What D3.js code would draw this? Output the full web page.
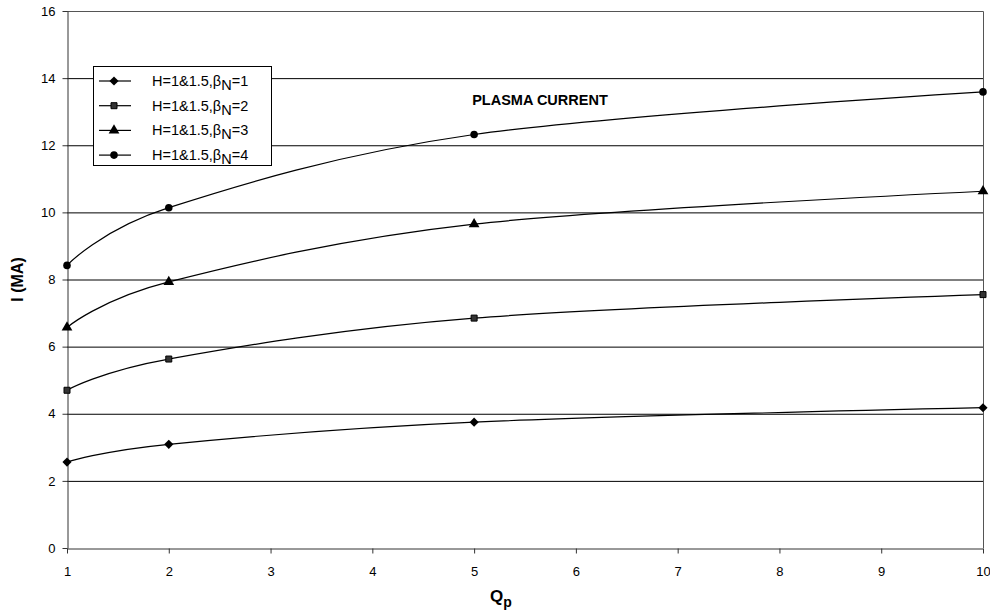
<!DOCTYPE html>
<html>
<head>
<meta charset="utf-8">
<script src="https://cdn.jsdelivr.net/npm/d3@7"></script>
<style>
  body { margin: 0; background: #fff; }
  text { font-family: "Liberation Sans", Arial, sans-serif; }
</style>
</head>
<body>
<div id="chart"></div>
<script>
// data
var qp = [1, 2, 5, 10];
var beta1 = [2.56, 3.09, 3.75, 4.18];
var beta2 = [4.70, 5.63, 6.85, 7.55];
var beta3 = [6.57, 7.93, 9.65, 10.63];
var beta4 = [8.42, 10.14, 12.32, 13.59];
var seriesNames = ["1", "2", "3", "4"];
var yTicks = [0, 2, 4, 6, 8, 10, 12, 14, 16];
var xTicks = [1, 2, 3, 4, 5, 6, 7, 8, 9, 10];

var margin = { top: 11, right: 7, bottom: 66, left: 67 },
  width = 990 - margin.left - margin.right,
  height = 614 - margin.top - margin.bottom;

var svg = d3
  .select("#chart")
  .append("svg")
  .attr("width", 990)
  .attr("height", 614)
  .append("g")
  .attr("transform", "translate(" + margin.left + "," + margin.top + ")");

var x = d3.scaleLinear().domain([1, 10]).range([0, width]);
var y = d3.scaleLinear().domain([0, 16]).range([height, 0]);

// grid lines
svg
  .selectAll(".grid")
  .data(yTicks.filter(function (d) { return d > 0 && d < 16; }))
  .enter()
  .append("line")
  .attr("x1", 0)
  .attr("x2", width)
  .attr("y1", function (d) { return y(d) + 0.5; })
  .attr("y2", function (d) { return y(d) + 0.5; })
  .style("stroke", "#000")
  .style("stroke-width", 1);

// top and right border
svg.append("path")
  .attr("d", "M0," + (y(16) + 0.5) + "H" + (width + 0.5) + "V" + height)
  .style("fill", "none")
  .style("stroke", "#555");

// axes
var yAxis = svg.append("g")
  .attr("transform", "translate(0.5,0)")
  .call(d3.axisLeft(y).tickValues(yTicks).tickSize(5).tickPadding(7).tickSizeOuter(0));
var xAxis = svg.append("g")
  .attr("transform", "translate(0," + (height + 0.5) + ")")
  .call(d3.axisBottom(x).tickValues(xTicks).tickSize(5).tickPadding(13).tickSizeOuter(0));
[xAxis, yAxis].forEach(function (a) {
  a.selectAll("text").style("font-size", "13px").style("fill", "#000");
  a.selectAll("line, path").style("stroke", "#333");
});

// lines
var allSeries = [beta1, beta2, beta3, beta4];
var line = d3
  .line()
  .x(function (d, i) { return x(qp[i]); })
  .y(function (d) { return y(d); })
  .curve(d3.curveCatmullRom.alpha(0));

svg
  .selectAll(".series")
  .data(allSeries)
  .enter()
  .append("path")
  .attr("d", line)
  .style("fill", "none")
  .style("stroke", "#000")
  .style("stroke-width", 1.2);

var symbols = [d3.symbolSquare, d3.symbolSquare, d3.symbolTriangle, d3.symbolCircle];
var symSizes = [42, 36, 50, 45];

function drawMarker(g, k, cx, cy) {
  var s = g.append("path")
    .attr("d", d3.symbol().type(symbols[k]).size(symSizes[k])())
    .attr("transform", "translate(" + cx + "," + cy + ")" + (k === 0 ? " rotate(45)" : ""))
    .style("fill", "#000");
  if (k === 1) {
    s.style("fill", "#333").style("stroke", "#000").style("stroke-width", 1);
  }
}

allSeries.forEach(function (vals, k) {
  vals.forEach(function (v, i) {
    drawMarker(svg, k, x(qp[i]), y(v));
  });
});

// title
svg.append("text")
  .attr("x", 473)
  .attr("y", 94)
  .attr("text-anchor", "middle")
  .style("font-size", "14.5px")
  .style("font-weight", "bold")
  .text("PLASMA CURRENT");

// axis titles
svg.append("text")
  .attr("x", width / 2 - 24)
  .attr("y", height + 54)
  .attr("text-anchor", "middle")
  .style("font-size", "17px")
  .style("font-weight", "bold")
  .text("Q")
  .append("tspan")
  .attr("dy", 5)
  .style("font-size", "14px")
  .text("p");

svg.append("text")
  .attr("transform", "translate(-44," + (height / 2) + ") rotate(-90)")
  .attr("text-anchor", "middle")
  .style("font-size", "16px")
  .style("font-weight", "bold")
  .text("I (MA)");

// legend
var legend = svg.append("g").attr("transform", "translate(26,55)");
legend.append("rect")
  .attr("x", 0.5)
  .attr("y", 0.5)
  .attr("width", 178)
  .attr("height", 99)
  .style("fill", "#fff")
  .style("stroke", "#000");

seriesNames.forEach(function (name, k) {
  var ly = 15 + k * 24.7;
  legend.append("line")
    .attr("x1", 6).attr("x2", 38)
    .attr("y1", ly).attr("y2", ly)
    .style("stroke", "#000").style("stroke-width", 1.2);
  drawMarker(legend, k, 21, ly);
  var t = legend.append("text")
    .attr("x", 59)
    .attr("y", ly + 5)
    .style("font-size", "14.5px")
    .text("H=1&1.5,β");
  t.append("tspan").attr("dy", 4).text("N");
  t.append("tspan").attr("dy", -4).text("=" + name);
});
</script>
</body>
</html>
